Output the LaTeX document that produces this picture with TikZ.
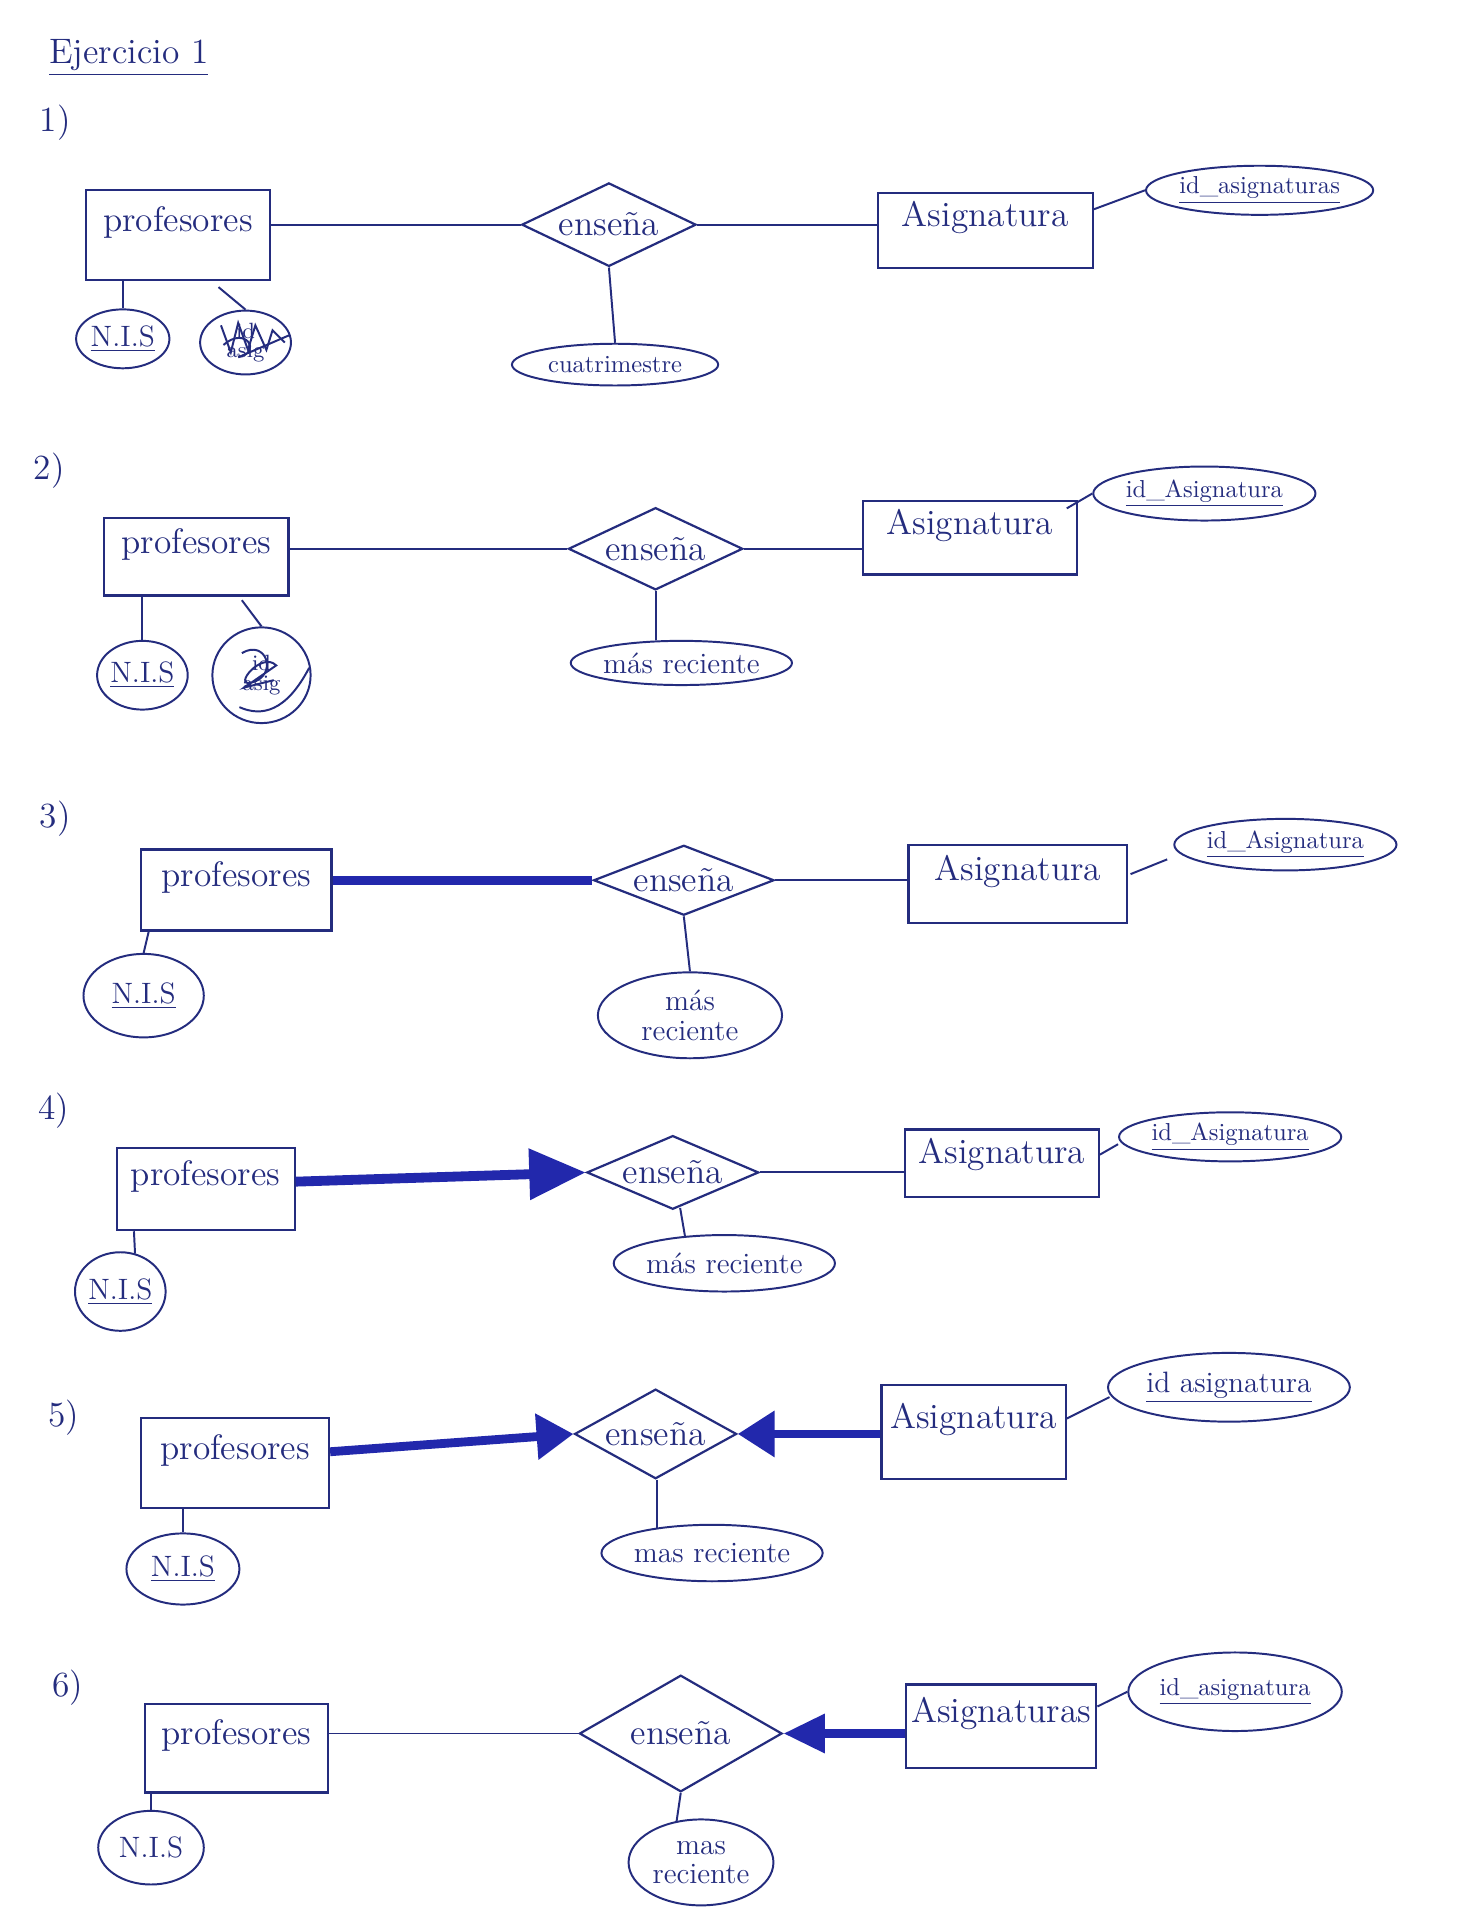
\documentclass[tikz,border=0pt]{standalone}
\usepackage{fontspec}
\usetikzlibrary{shapes.geometric,arrows.meta,calc}
\definecolor{ink}{RGB}{36,44,126}
\definecolor{inkthick}{RGB}{34,40,172}
\tikzset{
  conn/.style={draw=ink, line width=0.8pt},
  entbox/.style={rectangle, draw=ink, line width=0.9pt, inner sep=0pt, font=\Large, text=ink, text depth=13pt},
  relbox/.style={diamond, aspect=2.5, draw=ink, line width=0.9pt, inner sep=0pt, font=\Large, text=ink},
  attrbox/.style={ellipse, draw=ink, line width=0.8pt, inner sep=0pt, align=center, font=\large, text=ink},
  idbox/.style={attrbox, font=\normalsize},
  numlabel/.style={font=\Large, text=ink, inner sep=1pt},
  thickline/.style={draw=inkthick, line width=3.6pt},
}
\begin{document}
\begin{tikzpicture}[x=0.5pt,y=-0.5pt]
\fill[white] (0,0) rectangle (1191,1568);
\path[use as bounding box] (0,0) rectangle (1191,1568);

% title
\node[font=\Large, text=ink] (title) at (105,47) {\underline{Ejercicio 1}};

% ===== 1 =====
\node[numlabel] (n1) at (45,100) {1)};
\node[entbox, minimum width=75pt, minimum height=36.5pt] (p1) at (145,191.5) {profesores};
\node[relbox, minimum width=71pt, minimum height=34pt] (r1) at (496,183) {enseña};
\node[entbox, minimum width=87.5pt, minimum height=30.5pt] (a1) at (802.5,187.5) {Asignatura};
\node[idbox, minimum width=91pt, minimum height=20pt] (id1) at (1026,155) {\underline{id\_asignaturas}};
\node[idbox, minimum width=84pt, minimum height=17pt] (c1) at (501,297) {cuatrimestre};
\node[attrbox, minimum width=38pt, minimum height=24pt] (nis1) at (100,276) {\underline{N.I.S}};
\node[attrbox, minimum width=37pt, minimum height=26pt, font=\small] (s1) at (200,279) {id\\[-3pt]asig};
\draw[conn] (p1.east |- r1.west) -- (r1.west);
\draw[conn] (r1.east) -- (r1.east -| a1.west);
\draw[conn] ($(a1.east)+(0,-17)$) -- (id1.west);
\draw[conn] (r1.south) -- (c1.north);
\draw[conn] (p1.south -| nis1.north) -- (nis1.north);
\draw[conn] ($(p1.south)+(33,5)$) -- (s1.north);
\draw[conn] ($(s1.center)+(-20,-14)$) -- ++(8,22) -- ++(6,-24) -- ++(8,22) -- ++(6,-20) -- ++(9,20) -- ++(5,-16) -- ++(10,10);
\draw[conn] ($(s1.center)+(-18,2)$) .. controls ($(s1.center)+(0,-14)$) and ($(s1.center)+(14,8)$) .. ($(s1.center)+(-6,12)$) -- ($(s1.east)+(-2,-6)$);

% ===== 2 =====
\node[numlabel] (n2) at (40,383) {2)};
\node[entbox, minimum width=75pt, minimum height=31.5pt] (p2) at (160,453.5) {profesores};
\node[relbox, minimum width=71pt, minimum height=33.5pt] (r2) at (534,447) {enseña};
\node[entbox, minimum width=87pt, minimum height=30pt] (a2) at (790,438) {Asignatura};
\node[idbox, minimum width=88.5pt, minimum height=22pt] (id2) at (981,402) {\underline{id\_Asignatura}};
\node[attrbox, minimum width=90pt, minimum height=18pt] (m2) at (555,540) {más reciente};
\node[attrbox, minimum width=34pt, minimum height=28pt] (nis2) at (116,550) {\underline{N.I.S}};
\node[attrbox, minimum width=40pt, minimum height=39pt, font=\small] (s2) at (213,550) {id\\[-3pt]asig};
\draw[conn] (p2.east |- r2.west) -- (r2.west);
\draw[conn] (r2.east) -- (r2.east -| a2.west);
\draw[conn] ($(a2.north east)+(-9,7)$) -- (id2.west);
\draw[conn] (r2.south) -- (r2.south |- m2.north);
\draw[conn] (p2.south -| nis2.north) -- (nis2.north);
\draw[conn] ($(p2.south)+(37,3)$) -- (s2.north);
\draw[conn] ($(s2.center)+(-16,-18)$) .. controls ($(s2.center)+(4,-30)$) and ($(s2.center)+(14,0)$) .. ($(s2.center)+(-8,6)$) .. controls ($(s2.center)+(-24,10)$) and ($(s2.center)+(0,-20)$) .. ($(s2.center)+(12,-8)$) -- ($(s2.center)+(-14,10)$) -- ($(s2.center)+(10,4)$);
\draw[conn] ($(s2.center)+(-18,26)$) .. controls ($(s2.center)+(0,34)$) and ($(s2.center)+(20,30)$) .. ($(s2.east)+(-2,-6)$);

% ===== 3 =====
\node[numlabel] (n3) at (45,667) {3)};
\node[entbox, minimum width=77.5pt, minimum height=33pt] (p3) at (192.5,725) {profesores};
\node[relbox, minimum width=73.5pt, minimum height=28.5pt] (r3) at (557,717) {enseña};
\node[entbox, minimum width=89pt, minimum height=32pt] (a3) at (829,720) {Asignatura};
\node[idbox, minimum width=87.5pt, minimum height=21pt] (id3) at (1047,688) {\underline{id\_Asignatura}};
\node[attrbox, minimum width=75pt, minimum height=35pt] (m3) at (562,827) {más\\[-2pt]reciente};
\node[attrbox, minimum width=49pt, minimum height=34pt] (nis3) at (117,811) {\underline{N.I.S}};
\draw[thickline] (p3.east |- r3.west) -- (r3.west);
\draw[conn] (r3.east) -- (r3.east -| a3.west);
\draw[conn] ($(a3.east)+(2,-8)$) -- ($(id3.west)+(-5,12)$);
\draw[conn] (r3.south) -- (m3.north);
\draw[conn] ($(p3.south west)+(7,0)$) -- (nis3.north);

% ===== 4 =====
\node[numlabel] (n4) at (44,905) {4)};
\node[entbox, minimum width=72.5pt, minimum height=33.5pt] (p4) at (167.5,968.5) {profesores};
\node[relbox, minimum width=70pt, minimum height=30pt] (r4) at (548,955) {enseña};
\node[entbox, minimum width=79pt, minimum height=27.5pt, text depth=10pt] (a4) at (816,947.5) {Asignatura};
\node[idbox, minimum width=80pt, minimum height=20pt] (id4) at (1002,926) {\underline{id\_Asignatura}};
\node[attrbox, minimum width=79pt, minimum height=23pt] (m4) at (590,1029) {más reciente};
\node[attrbox, minimum width=36pt, minimum height=32pt] (nis4) at (98,1052) {\underline{N.I.S}};
\draw[draw=inkthick, line width=4pt, -{Triangle[length=23pt,width=20pt]}] ($(p4.east)+(0,-6)$) -- (r4.west);
\draw[conn] (r4.east) -- (r4.east -| a4.west);
\draw[conn] ($(a4.east)+(0,-7)$) -- ($(id4.west)+(0,6)$);
\draw[conn] ($(r4.south)+(6,-2)$) -- ($(m4.north)+(-32,2)$);
\draw[conn] ($(p4.south west)+(15,0)$) -- ($(nis4.north)+(12,2)$);

% ===== 5 =====
\node[numlabel] (n5) at (52,1155) {5)};
\node[entbox, minimum width=76.5pt, minimum height=36.5pt] (p5) at (191.5,1191.5) {profesores};
\node[relbox, minimum width=66pt, minimum height=36.5pt] (r5) at (534,1168) {enseña};
\node[entbox, minimum width=75pt, minimum height=38.5pt] (a5) at (793,1166.5) {Asignatura};
\node[attrbox, minimum width=98.5pt, minimum height=28pt] (id5) at (1001,1130) {\underline{id asignatura}};
\node[attrbox, minimum width=87.5pt, minimum height=23pt] (m5) at (580,1265) {mas reciente};
\node[attrbox, minimum width=46pt, minimum height=29pt] (nis5) at (149,1278) {\underline{N.I.S}};
\draw[draw=inkthick, line width=3.6pt, -{Triangle[length=15pt,width=18pt]}] ($(p5.east)+(0,-9)$) -- (r5.west);
\draw[draw=inkthick, line width=3.6pt, -{Triangle[length=15pt,width=18pt]}] (a5.west |- r5.east) -- (r5.east);
\draw[conn] ($(a5.east)+(0,-11)$) -- ($(id5.west)+(2,8)$);
\draw[conn] ($(r5.south)+(1,0)$) -- ($(m5.north)+(-45,4)$);
\draw[conn] (p5.south -| nis5.north) -- (nis5.north);

% ===== 6 =====
\node[numlabel] (n6) at (55,1375) {6)};
\node[entbox, minimum width=74.5pt, minimum height=36pt] (p6) at (192.5,1424) {profesores};
\node[relbox, aspect=1.7, minimum width=82.5pt, minimum height=47.5pt] (r6) at (554.5,1412) {enseña};
\node[entbox, minimum width=77.5pt, minimum height=34pt] (a6) at (815.5,1406) {Asignaturas};
\node[idbox, minimum width=84pt, minimum height=32pt] (id6) at (1006,1378) {\underline{id\_asignatura}};
\node[attrbox, minimum width=59pt, minimum height=35pt] (m6) at (571,1517) {mas\\[-2pt]reciente};
\node[attrbox, minimum width=43pt, minimum height=30pt] (nis6) at (123,1505) {N.I.S};
\draw[conn] (p6.east |- r6.west) -- (r6.west);
\draw[draw=inkthick, line width=4pt, -{Triangle[length=17pt,width=15pt]}] (a6.west |- r6.east) -- (r6.east);
\draw[conn] ($(a6.east)+(0,-16)$) -- (id6.west);
\draw[conn] (r6.south) -- ($(m6.north)+(-20,3)$);
\draw[conn] (p6.south -| nis6.north) -- (nis6.north);
\end{tikzpicture}
\end{document}
